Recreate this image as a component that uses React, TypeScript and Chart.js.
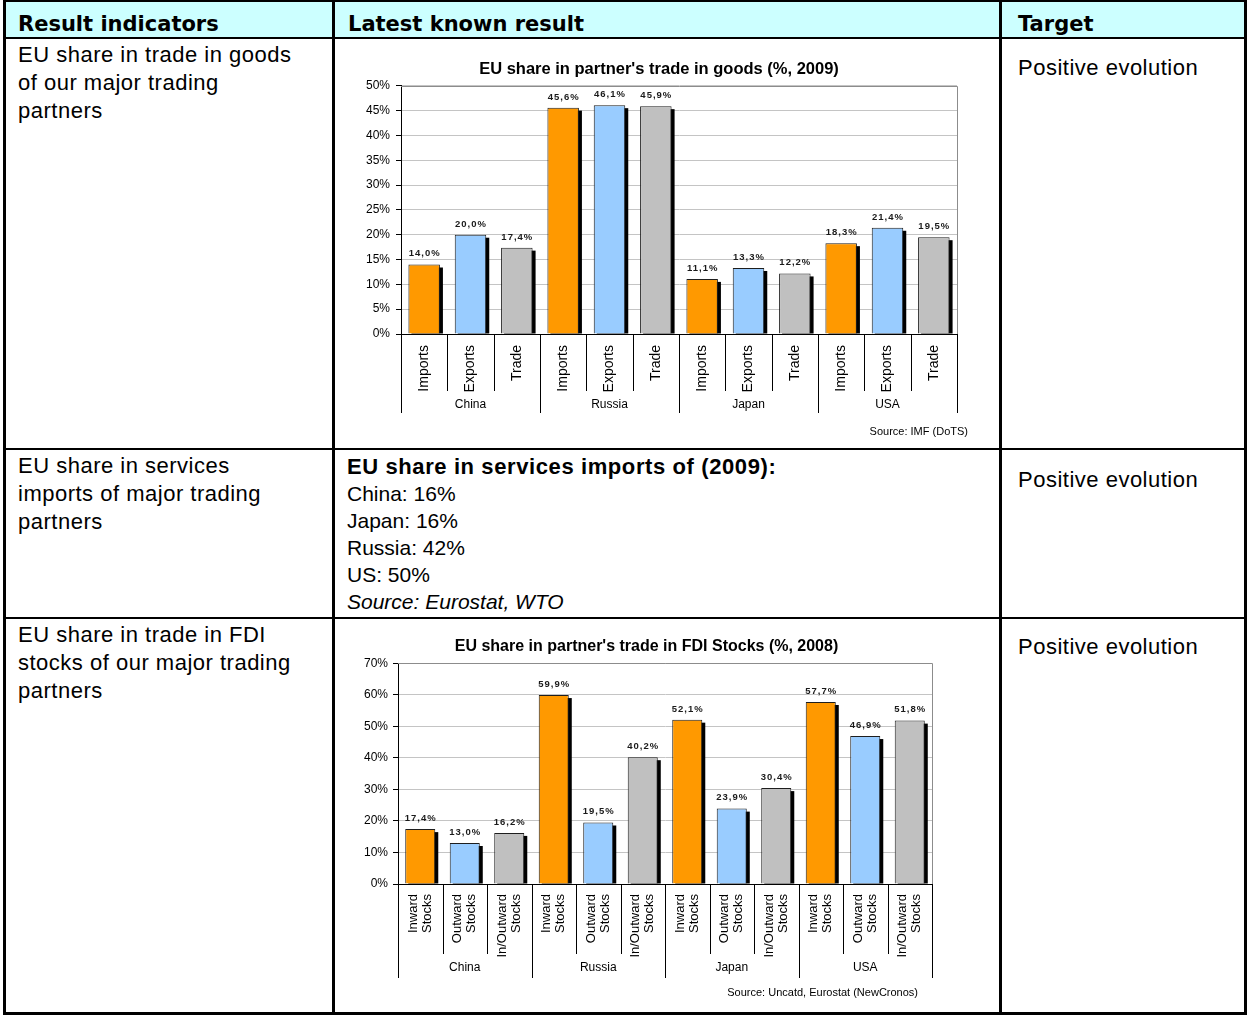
import React, { useEffect, useRef } from 'react';
import { Chart, registerables } from 'chart.js';

Chart.register(...registerables);

const FONT = '"Liberation Sans", Arial, Helvetica, sans-serif';
Chart.defaults.font.family = FONT;

// ---- data ----
const partners = ['China', 'Russia', 'Japan', 'USA'];
const goodsFlows = ['Imports', 'Exports', 'Trade'];
const goodsShares = [14.0, 20.0, 17.4, 45.6, 46.1, 45.9, 11.1, 13.3, 12.2, 18.3, 21.4, 19.5];
const goodsYTicks = [0, 5, 10, 15, 20, 25, 30, 35, 40, 45, 50];
const fdiFlows = [['Inward', 'Stocks'], ['Outward', 'Stocks'], ['In/Outward', 'Stocks']];
const fdiShares = [17.4, 13.0, 16.2, 59.9, 19.5, 40.2, 52.1, 23.9, 30.4, 57.7, 46.9, 51.8];
const fdiYTicks = [0, 10, 20, 30, 40, 50, 60, 70];
const flowColors = ['#FF9900', '#99CCFF', '#C0C0C0'];
const servicesShares = ['China: 16%', 'Japan: 16%', 'Russia: 42%', 'US: 50%'];

type Cfg = {
  title: string;
  source: string;
  groups: string[];
  subs: (string | string[])[];
  values: number[];
  yTicks: number[];
  left: number; top: number; width: number; height: number;
  yWidth: number; xHeight: number; padLeft: number; padRight: number;
  titleSize: number; titlePadTop: number; titlePadBottom: number;
  barPct: number;
  tickPad: number;
  subFont: number;
  subTop: number; subLineBottom: number; groupLabelY: number; groupLineBottom: number;
  sourceDx: number; sourceDy: number;
};

const fmt = (v: number) => v.toFixed(1).replace('.', ',') + '%';

function decor(cfg: Cfg) {
  return {
    id: 'decor',
    beforeDatasetsDraw(chart: any) {
      const { ctx, chartArea: a } = chart;
      ctx.save();
      ctx.strokeStyle = '#8c8c8c';
      ctx.lineWidth = 1;
      ctx.beginPath();
      ctx.moveTo(a.left, Math.round(a.top) + 0.5);
      ctx.lineTo(Math.round(a.right) + 0.5, Math.round(a.top) + 0.5);
      ctx.lineTo(Math.round(a.right) + 0.5, a.bottom);
      ctx.stroke();
      ctx.fillStyle = '#000';
      chart.getDatasetMeta(0).data.forEach((el: any) => {
        const p = el.getProps(['x', 'y', 'base', 'width'], true);
        ctx.fillRect(p.x - p.width / 2 + 3, p.y + 3, p.width, p.base - p.y - 3);
      });
      ctx.restore();
    },
    afterDatasetsDraw(chart: any) {
      const ctx = chart.ctx;
      ctx.save();
      ctx.font = `bold 9.5px ${FONT}`;
      try { (ctx as any).letterSpacing = '1px'; } catch (e) { /* ignore */ }
      ctx.fillStyle = '#1a1a1a';
      ctx.textAlign = 'center';
      ctx.textBaseline = 'bottom';
      chart.getDatasetMeta(0).data.forEach((el: any, i: number) => {
        const p = el.getProps(['x', 'y'], true);
        ctx.fillText(fmt(cfg.values[i]), p.x + 0.5, p.y - 6);
      });
      ctx.restore();
    },
    afterDraw(chart: any) {
      const ctx = chart.ctx;
      const a = chart.chartArea;
      const xs = chart.scales.x;
      const n = cfg.values.length;
      const per = cfg.subs.length;
      const edge = (k: number) => xs.getPixelForValue(k - 0.5);
      ctx.save();
      ctx.strokeStyle = '#000';
      ctx.lineWidth = 1;
      for (let k = 0; k <= n; k++) {
        const x = Math.round(edge(k)) + 0.5;
        const isGroup = k % per === 0;
        ctx.beginPath();
        ctx.moveTo(x, a.bottom);
        ctx.lineTo(x, a.bottom + (isGroup ? cfg.groupLineBottom : cfg.subLineBottom));
        ctx.stroke();
      }
      ctx.fillStyle = '#000';
      ctx.font = `${cfg.subFont}px ${FONT}`;
      const lh = 14;
      for (let i = 0; i < n; i++) {
        const sub = cfg.subs[i % per];
        const lines = Array.isArray(sub) ? sub : [sub];
        lines.forEach((line, j) => {
          const cx = xs.getPixelForValue(i) + (j - (lines.length - 1) / 2) * lh;
          ctx.save();
          ctx.translate(cx, a.bottom + cfg.subTop);
          ctx.rotate(-Math.PI / 2);
          ctx.textAlign = 'right';
          ctx.textBaseline = 'middle';
          ctx.fillText(line, 0, 0);
          ctx.restore();
        });
      }
      ctx.font = `12px ${FONT}`;
      ctx.textAlign = 'center';
      ctx.textBaseline = 'middle';
      cfg.groups.forEach((g, gi) => {
        const cx = (edge(gi * per) + edge(gi * per + per)) / 2;
        ctx.fillText(g, cx, a.bottom + cfg.groupLabelY);
      });
      ctx.font = `11px ${FONT}`;
      ctx.textAlign = 'right';
      ctx.fillText(cfg.source, a.right + cfg.sourceDx, a.bottom + cfg.sourceDy);
      ctx.restore();
    },
  };
}

function BarChart({ cfg }: { cfg: Cfg }) {
  const ref = useRef<HTMLCanvasElement | null>(null);
  useEffect(() => {
    if (!ref.current) return;
    const per = cfg.subs.length;
    const labels = cfg.values.map((_, i) => {
      const s = cfg.subs[i % per];
      return `${cfg.groups[Math.floor(i / per)]} ${Array.isArray(s) ? s.join(' ') : s}`;
    });
    const chart = new Chart(ref.current, {
      type: 'bar',
      data: {
        labels,
        datasets: [
          {
            data: cfg.values,
            backgroundColor: cfg.values.map((_, i) => flowColors[i % per]),
            borderColor: '#1e1e1e',
            borderWidth: 1,
            barPercentage: cfg.barPct,
            categoryPercentage: 1,
          },
        ],
      },
      options: {
        animation: false,
        responsive: true,
        maintainAspectRatio: false,
        layout: { padding: { left: cfg.padLeft, right: cfg.padRight, top: 0, bottom: 0 } },
        plugins: {
          legend: { display: false },
          tooltip: { enabled: false },
          title: {
            display: true,
            text: cfg.title,
            color: '#000',
            font: { family: FONT, size: cfg.titleSize, weight: 'bold' },
            padding: { top: cfg.titlePadTop, bottom: cfg.titlePadBottom },
          },
        },
        scales: {
          x: {
            grid: { display: false },
            border: { display: true, color: '#000', width: 1 },
            ticks: { display: false },
            afterFit: (s: any) => { s.height = cfg.xHeight; },
          },
          y: {
            min: cfg.yTicks[0],
            max: cfg.yTicks[cfg.yTicks.length - 1],
            afterBuildTicks: (s: any) => { s.ticks = cfg.yTicks.map((v) => ({ value: v })); },
            afterFit: (s: any) => { s.width = cfg.yWidth; },
            ticks: {
              color: '#000',
              font: { family: FONT, size: 12 },
              padding: cfg.tickPad,
              callback: (v: any) => `${v}%`,
            },
            grid: { color: '#c4c4c4', tickColor: '#000', tickLength: 5 },
            border: { display: true, color: '#000', width: 1 },
          },
        },
      } as any,
      plugins: [decor(cfg)],
    });
    return () => chart.destroy();
  }, [cfg]);
  return (
    <div style={{ position: 'absolute', left: cfg.left, top: cfg.top, width: cfg.width, height: cfg.height }}>
      <canvas ref={ref} />
    </div>
  );
}

const goodsCfg: Cfg = {
  title: "EU share in partner's trade in goods (%, 2009)",
  source: 'Source: IMF (DoTS)',
  groups: partners,
  subs: goodsFlows,
  values: goodsShares,
  yTicks: goodsYTicks,
  left: 340, top: 45, width: 636, height: 400,
  yWidth: 40, xHeight: 111, padLeft: 21, padRight: 19,
  titleSize: 16.5, titlePadTop: 15, titlePadBottom: 6,
  barPct: 0.68, tickPad: 6,
  subFont: 14,
  subTop: 11, subLineBottom: 57, groupLabelY: 71, groupLineBottom: 79,
  sourceDx: 11, sourceDy: 98,
};

const fdiCfg: Cfg = {
  title: "EU share in partner's trade in FDI Stocks (%, 2008)",
  source: 'Source: Uncatd, Eurostat (NewCronos)',
  groups: partners,
  subs: fdiFlows,
  values: fdiShares,
  yTicks: fdiYTicks,
  left: 340, top: 622, width: 612, height: 388,
  yWidth: 37, xHeight: 126, padLeft: 21, padRight: 20,
  titleSize: 16, titlePadTop: 15, titlePadBottom: 7,
  barPct: 0.675, tickPad: 5,
  subFont: 13,
  subTop: 10, subLineBottom: 70, groupLabelY: 84, groupLineBottom: 94,
  sourceDx: -14, sourceDy: 109,
};

const line = (left: number, top: number, width: number, height: number) => (
  <div style={{ position: 'absolute', left, top, width, height, background: '#000' }} />
);

const bodyText: React.CSSProperties = {
  position: 'absolute',
  fontSize: 22,
  lineHeight: '28px',
  letterSpacing: 0.5,
  whiteSpace: 'nowrap',
};

const headText: React.CSSProperties = {
  position: 'absolute',
  top: 12,
  fontFamily: '"DejaVu Sans", Verdana, sans-serif',
  fontWeight: 'bold',
  fontSize: 21,
  lineHeight: '24px',
  whiteSpace: 'nowrap',
};

export default function App() {
  return (
    <div
      style={{
        position: 'absolute', left: 0, top: 0, width: 1247, height: 1015,
        background: '#fff', overflow: 'hidden', fontFamily: FONT, color: '#000',
      }}
    >
      <div style={{ position: 'absolute', left: 6, top: 2, width: 1238, height: 35, background: '#CCFFFF' }} />
      {line(3, 0, 1244, 2)}
      {line(3, 37, 1244, 2)}
      {line(3, 448, 1244, 2)}
      {line(3, 617, 1244, 2)}
      {line(3, 1012, 1244, 3)}
      {line(3, 0, 3, 1015)}
      {line(332, 0, 3, 1015)}
      {line(999, 0, 3, 1015)}
      {line(1244, 0, 3, 1015)}

      <div style={{ ...headText, left: 18 }}>Result indicators</div>
      <div style={{ ...headText, left: 348 }}>Latest known result</div>
      <div style={{ ...headText, left: 1018 }}>Target</div>

      <div style={{ ...bodyText, left: 18, top: 41 }}>
        EU share in trade in goods<br />of our major trading<br />partners
      </div>
      <div style={{ ...bodyText, left: 18, top: 452 }}>
        EU share in services<br />imports of major trading<br />partners
      </div>
      <div style={{ ...bodyText, left: 18, top: 621 }}>
        EU share in trade in FDI<br />stocks of our major trading<br />partners
      </div>

      <div style={{ ...bodyText, left: 1018, top: 54 }}>Positive evolution</div>
      <div style={{ ...bodyText, left: 1018, top: 466 }}>Positive evolution</div>
      <div style={{ ...bodyText, left: 1018, top: 633 }}>Positive evolution</div>

      <div style={{ position: 'absolute', left: 347, top: 453, fontSize: 21, lineHeight: '27px', whiteSpace: 'nowrap' }}>
        <div style={{ fontWeight: 'bold', fontSize: 22, letterSpacing: 0.6 }}>EU share in services imports of (2009):</div>
        {servicesShares.map((s) => (
          <div key={s}>{s}</div>
        ))}
        <div style={{ fontStyle: 'italic' }}>Source: Eurostat, WTO</div>
      </div>

      <BarChart cfg={goodsCfg} />
      <BarChart cfg={fdiCfg} />
    </div>
  );
}
